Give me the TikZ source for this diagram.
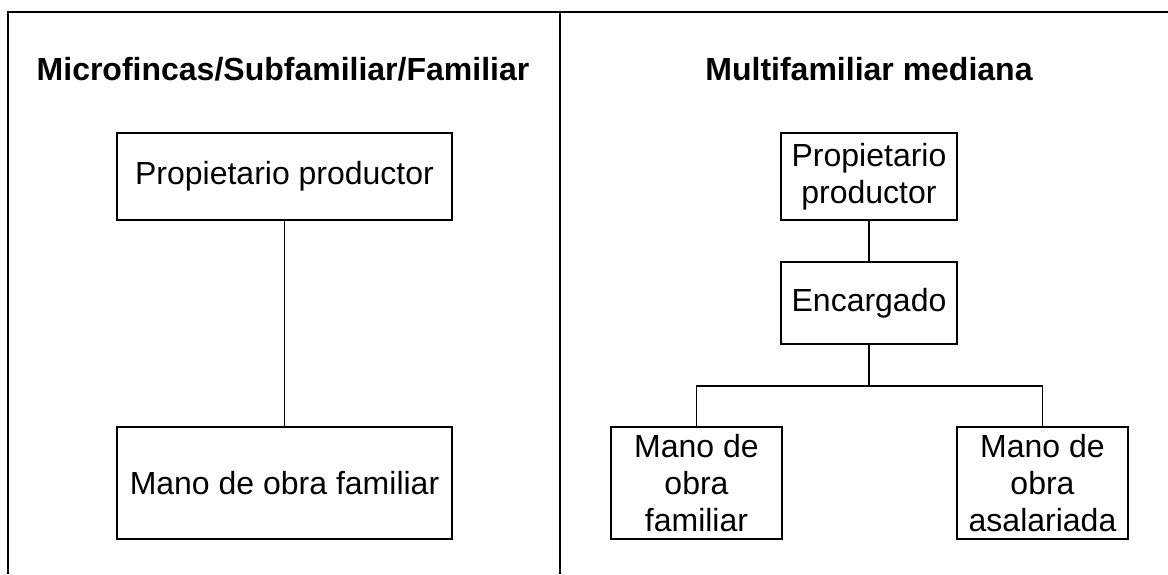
\documentclass[tikz,border=0pt]{standalone}
\usepackage{fontspec}
\setmainfont{Liberation Sans}
\usepackage{tikz}
\usetikzlibrary{positioning}

\begin{document}
\begin{tikzpicture}[x=0.5pt, y=-0.5pt, line width=0.6pt,
  caja/.style={draw, align=center, inner sep=2pt, font=\fontsize{16pt}{18.4pt}\selectfont},
  titulo/.style={anchor=base, font=\fontsize{16pt}{18.4pt}\selectfont\bfseries}]

\useasboundingbox (0,0) rectangle (1168,574);

% Table lines (left, top and middle column)
\draw (8,574) -- (8,12) -- (1168,12);
\draw (560,12) -- (560,574);

% Column titles
\node[titulo] (tizq) at (283,80) {Microfincas/Subfamiliar/Familiar};
\node[titulo] (tder) at (869,80) {Multifamiliar mediana};

% Left column: two boxes
\node[caja, minimum width=167.5pt, minimum height=43.5pt] (propizq) at (284.5,176.5) {Propietario productor};
\node[caja, minimum width=167.5pt, minimum height=56pt] (manoizq) at (284.5,483) {Mano de obra familiar};
\draw (propizq) -- (manoizq);

% Right column: owner, foreman, workers
\node[caja, minimum width=88pt, minimum height=43.5pt] (propder) at (869,176.5) {Propietario\\productor};
\node[caja, minimum width=88pt, minimum height=41pt] (encargado) at (869,303) {Encargado};
\node[caja, minimum width=85.5pt, minimum height=56pt] (familiar) at (696.5,483) {Mano de\\obra\\familiar};
\node[caja, minimum width=85.5pt, minimum height=56pt] (asalariada) at (1042.5,483) {Mano de\\obra\\asalariada};

% Connectors
\coordinate (rama) at (869,386);
\draw (propder) -- (encargado);
\draw (encargado) -- (rama);
\draw (rama) -| (familiar);
\draw (rama) -| (asalariada);

\end{tikzpicture}
\end{document}
